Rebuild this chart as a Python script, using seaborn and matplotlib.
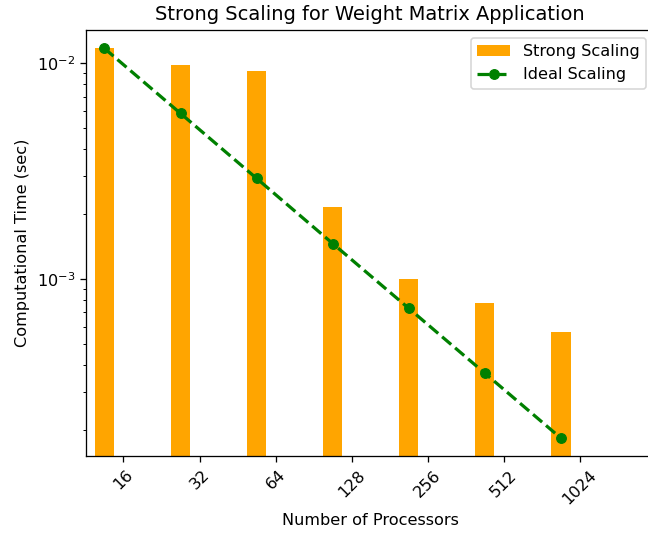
import matplotlib
matplotlib.use("Agg")
import matplotlib.pyplot as plt
import numpy as np
import seaborn as sns

processors = ["16", "32", "64", "128", "256", "512", "1024"]
strong_time = [0.0117, 0.0098, 0.00924, 0.00216, 0.00100, 0.000776, 0.000567]
ideal_time = [0.0117, 0.00585, 0.002925, 0.00146, 0.000731, 0.000366, 0.000183]

fig, ax = plt.subplots(figsize=(648 / 116, 534 / 116), dpi=116)
# the reference is cropped slightly at the right, so the axes run past the edge
fig.subplots_adjust(left=0.133, right=1.009, top=0.944, bottom=0.146)

ax.set_yscale("log")
x = np.arange(len(processors))

sns.barplot(x=processors, y=strong_time, color="orange", saturation=1,
            width=0.25, label="Strong Scaling", ax=ax)
sns.lineplot(x=x, y=ideal_time, color="green", linestyle="--", marker="o",
             markersize=6, markeredgecolor="green", linewidth=2,
             label="Ideal Scaling", ax=ax)

ax.set_xticks(x + 0.25)
ax.set_xticklabels(processors, rotation=45)
ax.set_xlim(-0.24, 7.22)
ax.set_ylim(10 ** -3.82, 10 ** -1.846)

ax.set_title("Strong Scaling for Weight Matrix Application", fontsize=12)
ax.set_xlabel("Number of Processors")
ax.set_ylabel("Computational Time (sec)")

handles, labels = ax.get_legend_handles_labels()
order = [labels.index("Strong Scaling"), labels.index("Ideal Scaling")]
ax.legend([handles[i] for i in order], [labels[i] for i in order], loc="upper right")

plt.savefig("out.png", dpi=116)
